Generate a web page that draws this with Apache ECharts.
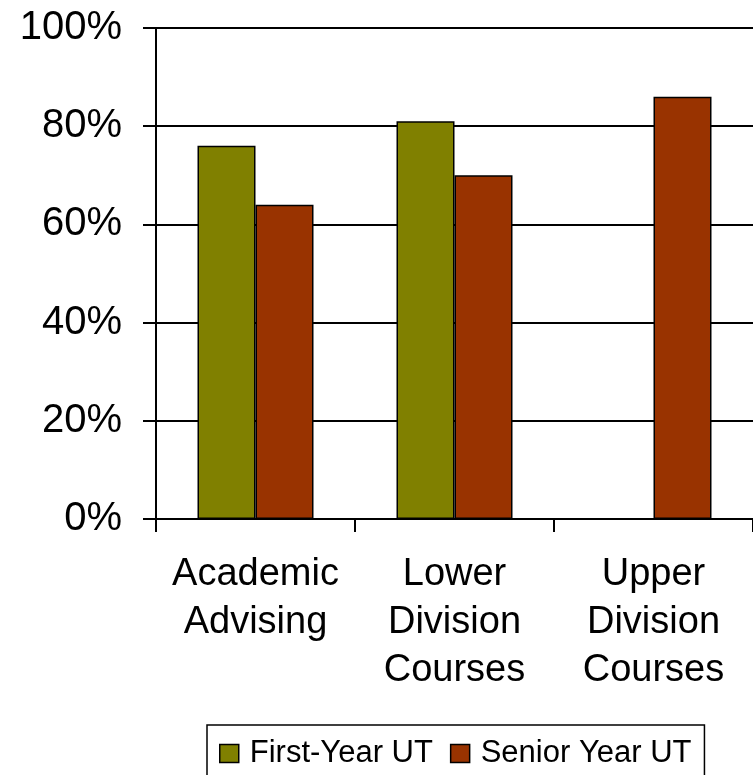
<!DOCTYPE html>
<html>
<head>
<meta charset="utf-8">
<script src="https://cdn.jsdelivr.net/npm/echarts@6/dist/echarts.min.js"></script>
<style>
  html, body { margin: 0; padding: 0; background: #fff; }
  #chart { width: 753px; height: 775px; }
</style>
</head>
<body>
<div id="chart"></div>
<script>
// Survey categories (line breaks are part of the axis labels)
const categories = ['Academic\nAdvising', 'Lower\nDivision\nCourses', 'Upper\nDivision\nCourses'];
const seriesNames = ['First-Year UT', 'Senior Year UT'];
// Percent values per category; no first-year value for upper division courses
const firstYear = [76, 81, null];
const seniorYear = [64, 70, 86];
const yTicks = [0, 20, 40, 60, 80, 100];

const FONT = '"Liberation Sans", Arial, sans-serif';
const chart = echarts.init(document.getElementById('chart'), null, { renderer: 'canvas' });

chart.setOption({
  animation: false,
  backgroundColor: '#ffffff',
  textStyle: { fontFamily: FONT, color: '#000' },
  grid: { left: 156, top: 28, width: 600, height: 491, containLabel: false },
  legend: {
    data: seriesNames,
    left: 207,
    top: 725,
    orient: 'horizontal',
    icon: 'rect',
    itemWidth: 19,
    itemHeight: 18,
    itemGap: 17,
    padding: [13, 13, 14, 12],
    borderColor: '#000',
    borderWidth: 1.5,
    itemStyle: { borderColor: '#000', borderWidth: 1.5 },
    textStyle: { fontSize: 31, fontFamily: FONT, color: '#000', padding: [0, 0, 0, 6] }
  },
  xAxis: {
    type: 'category',
    data: categories,
    boundaryGap: true,
    axisLine: { show: true, lineStyle: { color: '#000', width: 2 } },
    axisTick: { show: true, length: 13, lineStyle: { color: '#000', width: 2 } },
    axisLabel: { fontSize: 38, lineHeight: 48, margin: 32, color: '#000', fontFamily: FONT, interval: 0 },
    splitLine: { show: false }
  },
  yAxis: {
    type: 'value',
    min: yTicks[0],
    max: yTicks[yTicks.length - 1],
    interval: yTicks[1] - yTicks[0],
    axisLine: { show: true, lineStyle: { color: '#000', width: 2 } },
    axisTick: { show: true, length: 13, lineStyle: { color: '#000', width: 2 } },
    axisLabel: { formatter: '{value}%', fontSize: 40, margin: 34, color: '#000', fontFamily: FONT },
    splitLine: { show: true, lineStyle: { color: '#000', width: 2 } }
  },
  series: [
    {
      name: seriesNames[0],
      type: 'bar',
      data: firstYear,
      barWidth: 58,
      barGap: '0%',
      itemStyle: { color: '#808000', borderColor: '#000', borderWidth: 1.5 }
    },
    {
      name: seriesNames[1],
      type: 'bar',
      data: seniorYear,
      barWidth: 58,
      barGap: '0%',
      itemStyle: { color: '#993300', borderColor: '#000', borderWidth: 1.5 }
    }
  ]
});
</script>
</body>
</html>
